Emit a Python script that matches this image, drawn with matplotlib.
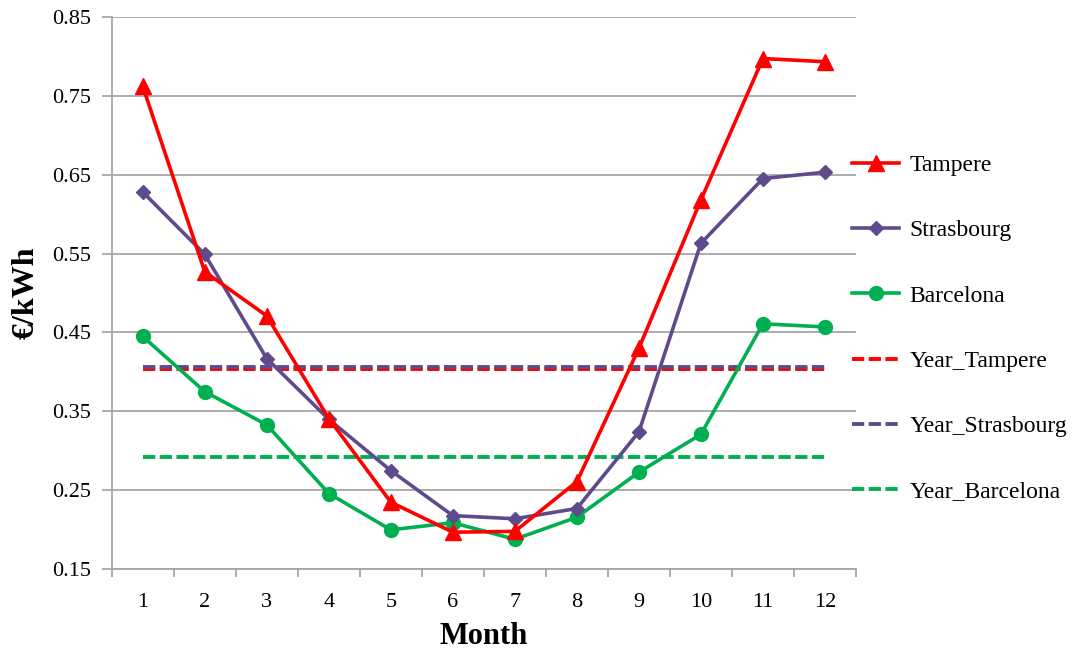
import matplotlib
matplotlib.use("Agg")
import matplotlib.pyplot as plt
import numpy as np

months = [1, 2, 3, 4, 5, 6, 7, 8, 9, 10, 11, 12]
tampere = [0.762, 0.527, 0.471, 0.341, 0.235, 0.197, 0.198, 0.261, 0.430, 0.618, 0.797, 0.793]
strasbourg = [0.628, 0.549, 0.417, 0.340, 0.275, 0.218, 0.214, 0.227, 0.324, 0.563, 0.645, 0.653]
barcelona = [0.445, 0.375, 0.333, 0.246, 0.200, 0.209, 0.188, 0.216, 0.273, 0.321, 0.461, 0.457]
year_tampere = 0.404
year_strasbourg = 0.406
year_barcelona = 0.292
yticks = [0.15, 0.25, 0.35, 0.45, 0.55, 0.65, 0.75, 0.85]

RED = "#FF0000"
PURPLE = "#5F4B8B"
GREEN = "#00B050"
GRID = "#A6A6A6"

plt.rcParams['font.family'] = ['Liberation Serif', 'DejaVu Serif']

fig = plt.figure(figsize=(10.72, 6.53), dpi=100)
ax = fig.add_axes([0.1042, 0.1282, 0.6943, 0.8462])

lw = 2.6
dlw = 2.8
dash = (0, (3.15, 1.15))
ax.plot(months, tampere, color=RED, lw=lw, marker='^', ms=11, label='Tampere', zorder=5)
ax.plot(months, strasbourg, color=PURPLE, lw=lw, marker='D', ms=7.5, label='Strasbourg', zorder=4)
ax.plot(months, barcelona, color=GREEN, lw=lw, marker='o', ms=10, label='Barcelona', zorder=3)
ax.plot(months, [year_tampere] * len(months), color=RED, lw=dlw, ls=dash, label='Year_Tampere', zorder=2)
ax.plot(months, [year_strasbourg] * len(months), color=PURPLE, lw=dlw, ls=dash, label='Year_Strasbourg', zorder=2)
ax.plot(months, [year_barcelona] * len(months), color=GREEN, lw=dlw, ls=dash, label='Year_Barcelona', zorder=2)

ax.set_xlim(0.5, 12.5)
ax.set_ylim(0.15, 0.85)
ax.set_yticks(yticks)
ax.set_yticklabels([f"{v:.2f}" for v in yticks])
ax.yaxis.grid(True, color=GRID, lw=1.3)
ax.set_axisbelow(True)

ax.set_xticks(np.arange(0.5, 13, 1.0))
ax.set_xticklabels([])
ax.set_xticks(months, minor=True)
ax.set_xticklabels([str(m) for m in months], minor=True)
ax.tick_params(axis='x', which='major', length=6, width=1.3, color=GRID, direction='out')
ax.tick_params(axis='x', which='minor', length=0, pad=17, labelsize=16)
ax.tick_params(axis='y', length=7, width=1.3, color=GRID, direction='out', pad=8, labelsize=16)

for s in ['top', 'right']:
    ax.spines[s].set_visible(False)
for s in ['left', 'bottom']:
    ax.spines[s].set_color(GRID)
    ax.spines[s].set_linewidth(1.3)

ax.set_xlabel('Month', fontsize=22, fontweight='bold', labelpad=7)
ax.set_ylabel('€/kWh', fontsize=23, fontweight='bold', labelpad=8)

leg = fig.legend(loc='center left', bbox_to_anchor=(0.795, 0.497), frameon=False,
                 fontsize=17, labelspacing=1.85, handlelength=2.0, handletextpad=0.42,
                 borderaxespad=0, borderpad=0)

fig.savefig('out.png', dpi=100)
